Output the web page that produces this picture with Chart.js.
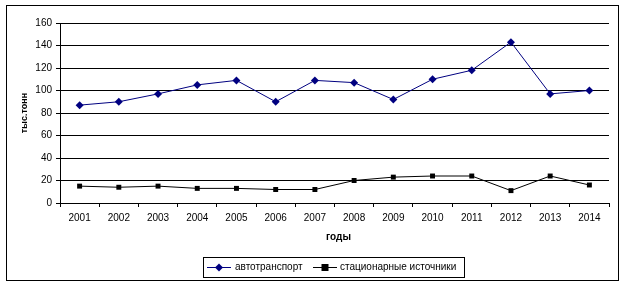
<!DOCTYPE html>
<html>
<head>
<meta charset="utf-8">
<script src="https://cdn.jsdelivr.net/npm/chart.js@4/dist/chart.umd.min.js"></script>
<style>
  html, body { margin: 0; padding: 0; background: #fff; }
  #wrap { width: 624px; height: 287px; }
</style>
</head>
<body>
<div id="wrap"><canvas id="emissionsChart" width="624" height="287"></canvas></div>
<script>
// data
const years = ["2001", "2002", "2003", "2004", "2005", "2006", "2007",
  "2008", "2009", "2010", "2011", "2012", "2013", "2014"];
const autoTransport = [87, 90, 97, 105, 109, 90, 109, 107, 92, 110, 118, 143, 97, 100];
const stationary = [15, 14, 15, 13, 13, 12, 12, 20, 23, 24, 24, 11, 24, 16];
const seriesNames = ["автотранспорт", "стационарные источники"];
const yTicks = [0, 20, 40, 60, 80, 100, 120, 140, 160];
const xTitle = "годы";
const yTitle = "тыс.тонн";

const font = "Liberation Sans, Arial, sans-serif";

// frame, axis titles and Excel-like legend box
const framePlugin = {
  id: "frame",
  afterDraw(chart) {
    const ctx = chart.ctx;
    const area = chart.chartArea;
    ctx.save();
    ctx.strokeStyle = "#000";
    ctx.lineWidth = 1;
    ctx.strokeRect(6.5, 5.5, 612, 275);

    // axis titles
    ctx.fillStyle = "#000";
    ctx.font = "bold 10px " + font;
    ctx.textAlign = "center";
    ctx.textBaseline = "middle";
    ctx.fillText(xTitle, (area.left + area.right) / 2 + 4, 237);
    ctx.save();
    ctx.translate(25, (area.top + area.bottom) / 2);
    ctx.rotate(-Math.PI / 2);
    ctx.font = "bold 9px " + font;
    ctx.fillText(yTitle, 0, 0);
    ctx.restore();

    // legend
    ctx.textAlign = "left";
    ctx.strokeRect(203.5, 257.5, 261, 20);
    const items = [
      { x: 207, textX: 235 },
      { x: 313, textX: 340 },
    ];
    chart.data.datasets.forEach((ds, i) => {
      const it = items[i];
      const y = 267.5;
      ctx.strokeStyle = ds.borderColor;
      ctx.fillStyle = ds.borderColor;
      ctx.beginPath();
      ctx.moveTo(it.x, y);
      ctx.lineTo(it.x + 24, y);
      ctx.stroke();
      const cx = it.x + 12;
      ctx.beginPath();
      if (ds.pointStyle === "rectRot") {
        ctx.moveTo(cx, y - 4);
        ctx.lineTo(cx + 4, y);
        ctx.lineTo(cx, y + 4);
        ctx.lineTo(cx - 4, y);
      } else {
        ctx.rect(cx - 3.5, y - 3.5, 7, 7);
      }
      ctx.fill();
      ctx.fillStyle = "#000";
      ctx.font = "10px " + font;
      ctx.fillText(ds.label, it.textX, y);
    });
    ctx.restore();
  },
};

const ctxEmissions = document.getElementById("emissionsChart").getContext("2d");
const emissionsChart = new Chart(ctxEmissions, {
  type: "line",
  data: {
    labels: years,
    datasets: [
      {
        label: seriesNames[0],
        data: autoTransport,
        borderColor: "#000080",
        backgroundColor: "#000080",
        borderWidth: 1,
        pointStyle: "rectRot",
        pointRadius: 4,
        pointBorderWidth: 0,
        tension: 0,
      },
      {
        label: seriesNames[1],
        data: stationary,
        borderColor: "#000000",
        backgroundColor: "#000000",
        borderWidth: 1,
        pointStyle: "rect",
        pointRadius: 3.5,
        pointBorderWidth: 0,
        tension: 0,
      },
    ],
  },
  options: {
    responsive: false,
    animation: false,
    layout: {
      padding: { top: 23, right: 15, left: 0, bottom: 0 },
    },
    scales: {
      x: {
        offset: true,
        grid: {
          offset: true,
          drawOnChartArea: false,
          drawTicks: true,
          tickLength: 4,
          color: "#000",
        },
        border: { color: "#000", width: 1 },
        ticks: {
          color: "#000",
          font: { family: font, size: 10 },
          padding: 5,
          maxRotation: 0,
        },
        afterFit(scale) {
          scale.height = 84;
        },
      },
      y: {
        min: 0,
        max: 160,
        afterBuildTicks(scale) {
          scale.ticks = yTicks.map((v) => ({ value: v }));
        },
        grid: {
          color: "#000",
          drawTicks: true,
          tickLength: 4,
        },
        border: { color: "#000", width: 1 },
        ticks: {
          color: "#000",
          font: { family: font, size: 10 },
          padding: 4,
        },
        afterFit(scale) {
          scale.width = 60;
        },
      },
    },
    plugins: {
      legend: { display: false },
      tooltip: { enabled: false },
    },
  },
  plugins: [framePlugin],
});
</script>
</body>
</html>
